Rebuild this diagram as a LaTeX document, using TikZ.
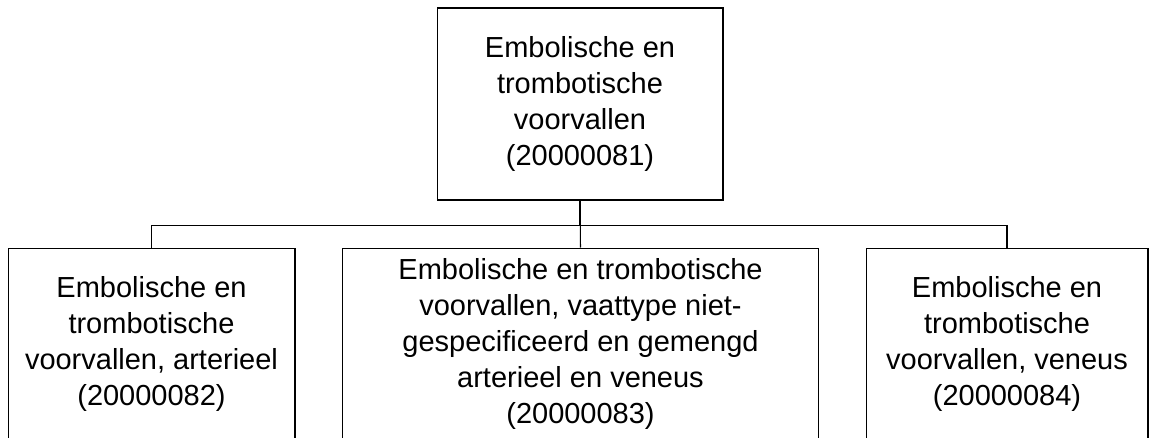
\documentclass[tikz,border=0pt]{standalone}
\usepackage{fontspec}
\setmainfont{Liberation Sans}
\usetikzlibrary{positioning}

\begin{document}
\begin{tikzpicture}[x=0.02cm, y=-0.02cm,
    box/.style={draw, line width=0.6pt, align=center, inner sep=0pt,
        minimum height=3.84cm, font=\fontsize{16.5}{20.5}\selectfont}]
    \useasboundingbox (0,0) rectangle (1152,437);
    \clip (0,0) rectangle (1152,437);

    \node[box, minimum width=5.72cm] (top) at (580,104) {Embolische en\\trombotische\\voorvallen\\(20000081)};

    \node[box, minimum width=5.74cm] (art) at (151.5,344) {Embolische en\\trombotische\\voorvallen, arterieel\\(20000082)};
    \node[box, minimum width=9.54cm] (mix) at (580.5,344) {Embolische en trombotische\\voorvallen, vaattype niet-\\gespecificeerd en gemengd\\arterieel en veneus\\(20000083)};
    \node[box, minimum width=5.64cm] (ven) at (1007,344) {Embolische en\\trombotische\\voorvallen, veneus\\(20000084)};

    \draw[line width=0.6pt] (top.south) -- ++(0,25) -| (art.north);
    \draw[line width=0.6pt] (top.south) ++(0,25) -| (ven.north);
    \draw[line width=0.6pt] (top.south) -- (mix.north);
\end{tikzpicture}
\end{document}
